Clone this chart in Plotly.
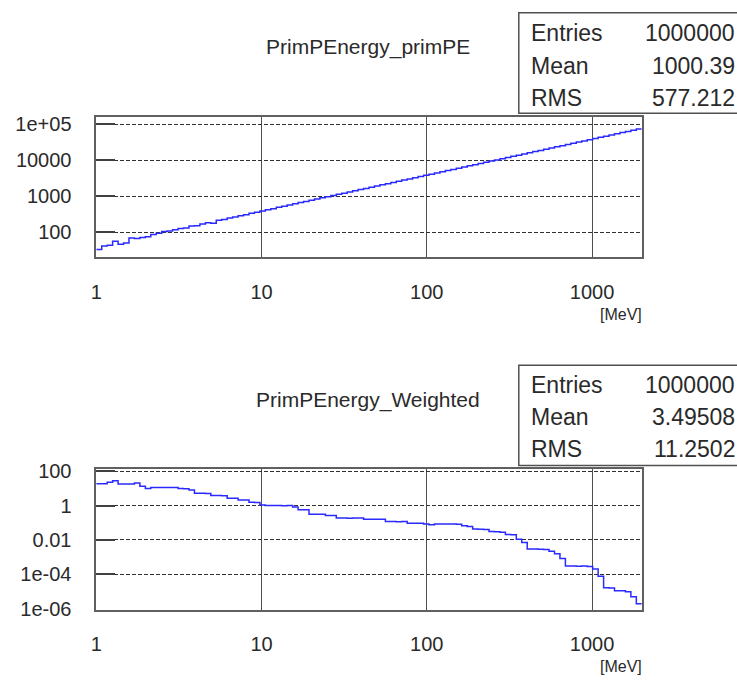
import numpy as np
import plotly.graph_objects as go

# ---- data ----
x_min = 1.0
x_max = 2000.0
n_bins = 100

prim_counts = [
    33, 41, 43, 56, 46, 50, 68, 66, 71, 74,
    86, 93, 104, 108, 116, 125, 130, 148, 150, 168,
    183, 176, 212, 225, 247, 263, 287, 306, 335, 356,
    388, 420, 449, 490, 522, 568, 610, 662, 708, 770,
    826, 895, 962, 1043, 1120, 1213, 1305, 1412, 1518, 1644,
    1768, 1915, 2058, 2229, 2398, 2593, 2791, 3020, 3250, 3516,
    3785, 4094, 4408, 4765, 5131, 5550, 5975, 6460, 6958, 7520,
    8101, 8756, 9432, 10195, 10983, 11870, 12789, 13817, 14890, 16088,
    17337, 18730, 20185, 21808, 23503, 25390, 27366, 29560, 31863, 34416,
    37100, 40070, 43198, 46650, 50296, 54312, 58562, 63232, 68185, 73620,
]

weighted_vals = [
    18.6, 18.6, 22.9, 27.5, 17.8, 17.8, 17.8, 20.4, 13.2, 9.77,
    11.2, 11.0, 11.2, 11.1, 11.2, 9.77, 9.5, 7.94, 5.13, 5.13,
    5.0, 3.80, 3.80, 3.7, 2.69, 2.69, 2.09, 2.09, 1.55, 1.5,
    1.07, 1.0, 1.0, 1.0, 0.98, 1.0, 0.813, 0.575, 0.575, 0.316,
    0.316, 0.31, 0.263, 0.263, 0.186, 0.186, 0.18, 0.186, 0.186, 0.162,
    0.162, 0.162, 0.16, 0.117, 0.117, 0.115, 0.117, 0.0933, 0.0933, 0.093,
    0.0851, 0.0759, 0.0851, 0.0851, 0.085, 0.0851, 0.082, 0.0661, 0.06, 0.0437,
    0.042, 0.04, 0.0316, 0.03, 0.028, 0.0209, 0.02, 0.011, 0.00708, 0.00302,
    0.00302, 0.0029, 0.0028, 0.00224, 0.00158, 0.000832, 0.000309, 0.000309, 0.0003, 0.000309,
    0.00029, 0.000209, 7.76e-5, 1.70e-5, 1.6e-5, 1.12e-5, 1.12e-5, 1.0e-5, 5.0e-6, 2.0e-6,
]

titles = ["PrimPEnergy_primPE", "PrimPEnergy_Weighted"]
stat_labels = ["Entries", "Mean", "RMS"]
stats_top = ["1000000", "1000.39", "577.212"]
stats_bottom = ["1000000", "3.49508", "11.2502"]

x_tickvals = [1, 10, 100, 1000]
x_ticktext = ["1", "10", "100", "1000"]
y1_tickvals = [100, 1000, 10000, 100000]
y1_ticktext = ["100", "1000", "10000", "1e+05"]
y2_tickvals = [1e-6, 1e-4, 1e-2, 1, 100]
y2_ticktext = ["1e-06", "1e-04", "0.01", "1", "100"]
x_unit = "[MeV]"

# ---- build ----
edges = np.logspace(np.log10(x_min), np.log10(x_max), n_bins + 1)

def step(vals):
    xs = list(edges)
    ys = list(vals) + [vals[-1]]
    return xs, ys

W, H = 737, 683
FONT = "Liberation Sans"
TXT = "#2a2a2a"
BLUE = "#2a2aff"

fig = go.Figure()
xs, ys = step(prim_counts)
fig.add_trace(go.Scatter(x=xs, y=ys, mode="lines", line=dict(shape="hv", color=BLUE, width=1.5),
                         xaxis="x", yaxis="y", showlegend=False, hoverinfo="skip"))
xs, ys = step(weighted_vals)
fig.add_trace(go.Scatter(x=xs, y=ys, mode="lines", line=dict(shape="hv", color=BLUE, width=1.5),
                         xaxis="x2", yaxis="y2", showlegend=False, hoverinfo="skip"))

xdom = [91 / W, 641 / W]
y1dom = [1 - 256 / H, 1 - 112 / H]
y2dom = [1 - 618 / H, 1 - 473 / H]

def xax(anchor):
    return dict(type="log", range=[0, np.log10(x_max)], domain=xdom, anchor=anchor,
                tickvals=x_tickvals, ticktext=x_ticktext, ticks="",
                showgrid=True, gridcolor="#505050", gridwidth=1.2,
                showline=True, mirror=True, linecolor="#606060", linewidth=1.5,
                zeroline=False, tickfont=dict(family=FONT, size=20, color=TXT),
                ticklabelstandoff=16)

def yax(anchor, dom, rng, tv, tt):
    return dict(type="log", range=rng, domain=dom, anchor=anchor,
                tickvals=tv, ticktext=tt, ticks="inside", ticklen=19,
                tickcolor="#404040", tickwidth=1.5,
                showgrid=True, gridcolor="#303030", gridwidth=1.2, griddash="4px,2px",
                showline=True, mirror=True, linecolor="#606060", linewidth=1.5,
                zeroline=False, tickfont=dict(family=FONT, size=20, color=TXT),
                ticklabelstandoff=19)

fig.update_layout(
    width=W, height=H, margin=dict(l=0, r=0, t=0, b=0),
    paper_bgcolor="white", plot_bgcolor="white",
    xaxis=xax("y"), yaxis=yax("x", y1dom, [1.30, 5.2], y1_tickvals, y1_ticktext),
    xaxis2=xax("y2"), yaxis2=yax("x2", y2dom, [-6.05, 2.15], y2_tickvals, y2_ticktext),
)

ann = []
shapes = []
# titles
for title, yc in zip(titles, [40, 403]):
    ann.append(dict(text=title, x=365 / W, y=1 - yc / H, xref="paper", yref="paper",
                    xanchor="center", yanchor="middle", showarrow=False,
                    font=dict(family=FONT, size=21, color=TXT)))
# stats boxes
for stats, top, bot, rows in [(stats_top, 5, 108, [25, 59, 91]),
                              (stats_bottom, 367, 470, [386, 419, 452])]:
    shapes.append(dict(type="rect", xref="paper", yref="paper",
                       x0=517 / W, x1=1.02, y0=1 - bot / H, y1=1 - top / H,
                       line=dict(color="#505050", width=1.5), fillcolor="white", layer="above"))
    for lab, val, yc in zip(stat_labels, stats, rows):
        ann.append(dict(text=lab, x=527 / W, y=1 - (yc + 1) / H, xref="paper", yref="paper",
                        xanchor="left", yanchor="middle", showarrow=False,
                        font=dict(family=FONT, size=23, color=TXT)))
        ann.append(dict(text=val, x=737 / W, y=1 - (yc + 1) / H, xref="paper", yref="paper",
                        xanchor="right", yanchor="middle", showarrow=False,
                        font=dict(family=FONT, size=23, color=TXT)))
# units
for yc in [315, 676]:
    ann.append(dict(text=x_unit, x=643 / W, y=1 - yc / H, xref="paper", yref="paper",
                    xanchor="right", yanchor="middle", showarrow=False,
                    font=dict(family=FONT, size=16, color=TXT)))

fig.update_layout(annotations=ann, shapes=shapes)
fig.write_html("out.html")
